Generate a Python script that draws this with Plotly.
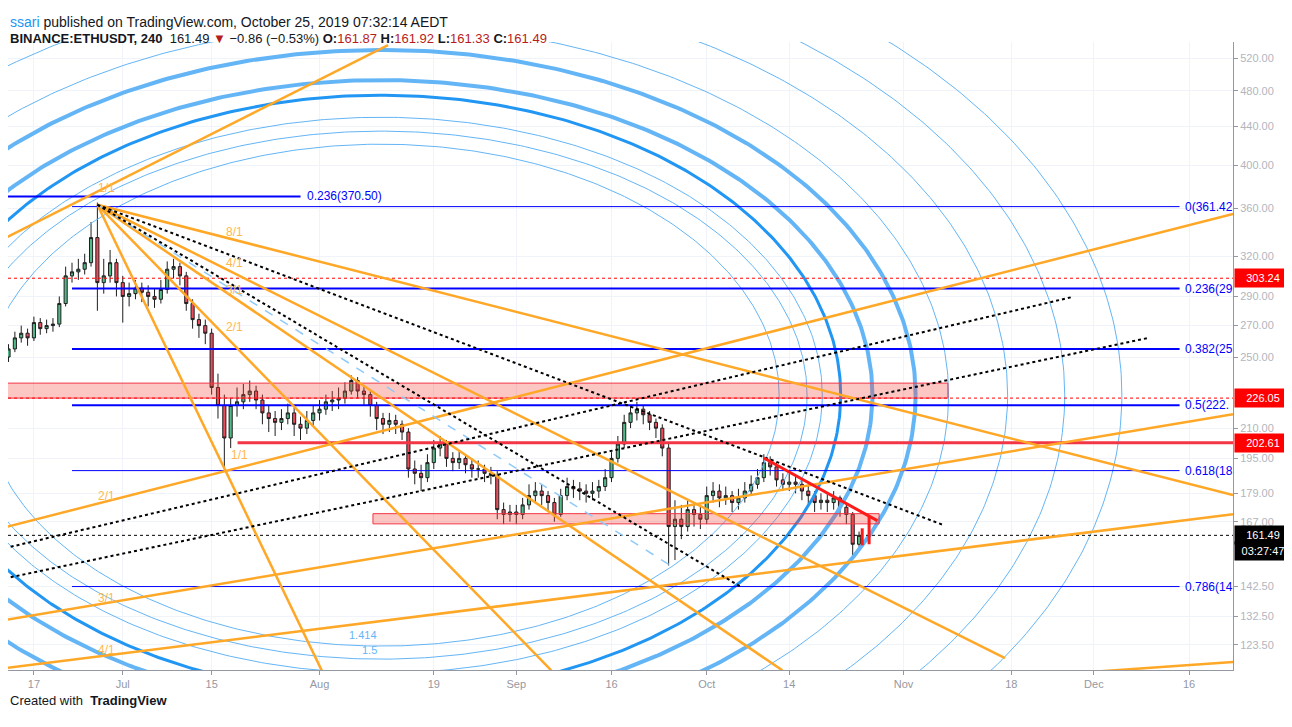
import numpy as np
import pandas as pd
from plotly import graph_objects as go

# daily ETHUSDT candles
start_date = "2019-06-12"
closes = [250, 255, 262, 265, 262, 272, 268, 270, 271, 285,
          305, 308, 310, 315, 335, 300, 305, 315, 300, 290,
          292, 296, 293, 290, 288, 295, 310, 312, 305, 285,
          274, 270, 265, 232, 222, 205, 222, 224, 228, 230,
          225, 218, 215, 213, 215, 218, 212, 210, 214, 218,
          220, 224, 225, 226, 230, 236, 230, 228, 222, 215,
          212, 214, 212, 208, 190, 188, 186, 193, 200, 202,
          195, 193, 195, 192, 190, 190, 188, 187, 172, 170,
          171, 170, 174, 178, 180, 178, 175, 170, 178, 182,
          181, 180, 179, 180, 182, 186, 195, 202, 213, 218,
          220, 217, 213, 210, 200, 165, 168, 165, 172, 170,
          168, 178, 180, 177, 178, 175, 177, 180, 183, 186,
          193, 191, 185, 183, 184, 183, 180, 178, 175, 176,
          175, 177, 173, 170, 158, 161.49]
highs = [254, 258, 266, 270, 268, 276, 275, 274, 275, 290,
         312, 315, 318, 322, 348, 365, 318, 325, 318, 305,
         300, 302, 300, 298, 296, 302, 316, 318, 315, 308,
         288, 278, 274, 268, 240, 228, 226, 232, 234, 236,
         233, 228, 222, 219, 220, 223, 221, 216, 219, 222,
         225, 228, 230, 232, 235, 239, 238, 233, 230, 224,
         218, 218, 217, 214, 210, 194, 192, 197, 204, 206,
         204, 198, 199, 197, 195, 194, 192, 191, 189, 175,
         174, 174, 177, 183, 184, 183, 180, 177, 181, 186,
         185, 184, 183, 184, 185, 190, 198, 206, 217, 222,
         224, 222, 219, 215, 212, 202, 176, 174, 176, 175,
         174, 182, 184, 183, 182, 180, 181, 184, 187, 190,
         197, 196, 193, 188, 188, 187, 185, 183, 180, 179,
         179, 180, 178, 175, 171, 163]
lows = [243, 247, 253, 259, 257, 260, 264, 265, 266, 269,
        283, 300, 302, 306, 312, 280, 292, 300, 290, 272,
        283, 288, 286, 283, 282, 285, 292, 303, 298, 280,
        268, 262, 258, 228, 215, 190, 200, 216, 220, 224,
        220, 212, 208, 206, 209, 212, 206, 204, 207, 211,
        214, 217, 219, 220, 223, 228, 226, 222, 216, 209,
        207, 208, 207, 204, 186, 183, 180, 184, 190, 196,
        191, 189, 190, 188, 186, 186, 184, 183, 168, 166,
        167, 166, 168, 172, 175, 174, 171, 167, 169, 176,
        177, 176, 175, 176, 177, 180, 184, 193, 200, 210,
        214, 212, 209, 205, 196, 150, 152, 160, 163, 165,
        164, 166, 175, 173, 174, 171, 172, 175, 178, 181,
        184, 187, 182, 180, 180, 179, 176, 174, 171, 172,
        171, 172, 169, 166, 153, 157]
opens = [245] + closes[:-1]
dates = pd.date_range(start_date, periods=len(closes), freq="D")

# fibonacci retracement levels
fib_names = ["0(361.42", "0.236(29", "0.382(25", "0.5(222.", "0.618(18", "0.786(14"]
fib_prices = [361.42, 295.67, 255.0, 222.12, 189.25, 142.44]
fib_widths = [1, 2, 2, 2, 1, 1]
fib_start = "2019-06-23"
fib_end = "2019-12-14 12:00"
fib_label_x = "2019-12-15"

# gann fan / trend lines (start date, start price, end date, end price)
orange_x0 = ["2019-06-12 10:00", "2019-06-27", "2019-06-27", "2019-06-27", "2019-06-27", "2019-06-27",
             "2019-06-12 10:00", "2019-06-12 10:00", "2019-06-12 10:00", "2019-11-10"]
orange_y0 = [334.5, 363, 363, 363, 363, 363, 164.7, 131.2, 116.6, 113.0]
orange_x1 = ["2019-08-11 19:00", "2019-12-22 22:00", "2019-11-17", "2019-10-12 22:00", "2019-09-06 12:00",
             "2019-08-01 08:00", "2019-12-22 22:00", "2019-12-22 22:00", "2019-12-22 22:00", "2019-12-22 22:00"]
orange_y1 = [537, 178.2, 119.5, 116, 116, 116, 355, 217.3, 170.1, 118.4]

dotted_x0 = ["2019-06-27", "2019-06-27", "2019-06-12 10:00", "2019-06-12 10:00"]
dotted_y0 = [363, 363, 145.3, 156.5]
dotted_x1 = ["2019-11-07 10:00", "2019-10-06 12:00", "2019-12-09 12:00", "2019-11-27 14:00"]
dotted_y1 = [165.5, 142.2, 261.9, 289.6]

fan_labels = ["1/1", "8/1", "4/1", "3/1", "2/1", "1/1", "2/1", "3/1", "4/1"]
fan_label_x = ["2019-06-28 12:00", "2019-07-18 14:00", "2019-07-18 14:00", "2019-07-18 14:00", "2019-07-18 14:00",
               "2019-07-19 08:00", "2019-06-28 12:00", "2019-06-28 12:00", "2019-06-28 12:00"]
fan_label_y = [378, 339.6, 315, 294.5, 269, 196.6, 178, 138.4, 121.9]

# fibonacci ellipses around one centre
circle_center_x = "2019-08-10 17:00"
circle_center_y = 227.7
circle_hr_days = [62.7, 67.1, 69.5, 72.4, 77.4, 84.2, 89.4, 98.7, 107.7, 116.7]
circle_vr_ln = [0.615, 0.647, 0.681, 0.735, 0.772, 0.846, 0.907, 1.005, 1.096, 1.189]
circle_widths = [1, 1, 1, 3, 4, 4, 1, 1, 1, 1]
circle_colors = ["#64b5f6", "#64b5f6", "#64b5f6", "#2196f3", "#64b5f6", "#64b5f6",
                 "#64b5f6", "#64b5f6", "#64b5f6", "#64b5f6"]

# zones and levels
zone1 = ["2019-06-12 10:00", "2019-11-08", 226.05, 234.5]
zone2 = ["2019-08-09 10:00", "2019-10-28 04:00", 166.1, 170.3]
axis_end = "2019-12-22 22:00"
axis_start = "2019-06-12 22:00"
red_line = ["2019-10-10", 195.2, "2019-10-27 21:00", 167.4]
red_ticks_x = ["2019-10-25 12:00", "2019-10-26 14:00"]
red_ticks_y0 = [164.3, 169.0]
red_ticks_y1 = [157.6, 158.0]

y_ticks = [520, 480, 440, 400, 360, 320, 290, 270, 250, 210, 195, 179, 167, 142.5, 132.5, 123.5]
x_tick_vals = ["2019-06-17", "2019-07-01", "2019-07-15", "2019-08-01", "2019-08-19", "2019-09-01", "2019-09-16",
               "2019-10-01", "2019-10-14", "2019-11-01", "2019-11-18", "2019-12-01", "2019-12-16"]
x_tick_text = ["17", "Jul", "15", "Aug", "19", "Sep", "16", "Oct", "14", "Nov", "18", "Dec", "16"]

fig = go.Figure()

# ellipses
t = np.linspace(0, 2 * np.pi, 600)
center = pd.Timestamp(circle_center_x)
for hr, vr, w, c in zip(circle_hr_days, circle_vr_ln, circle_widths, circle_colors):
    xs = center + pd.to_timedelta(hr * np.cos(t), unit="D")
    ys = np.exp(np.log(circle_center_y) + vr * np.sin(t))
    fig.add_trace(go.Scatter(x=xs, y=ys, mode="lines", line=dict(color=c, width=w), hoverinfo="skip"))

# zones
for z in [zone1, zone2]:
    fig.add_trace(go.Scatter(x=[z[0], z[1], z[1], z[0], z[0]], y=[z[2], z[2], z[3], z[3], z[2]],
                             mode="lines", fill="toself", fillcolor="rgba(244,67,54,0.3)",
                             line=dict(color="#f23645", width=1), hoverinfo="skip"))

# red / black horizontal levels
fig.add_trace(go.Scatter(x=[axis_start, axis_end], y=[303.24, 303.24], mode="lines", line=dict(color="#ff0000", width=1, dash="dot")))
fig.add_trace(go.Scatter(x=[axis_start, axis_end], y=[226.05, 226.05], mode="lines", line=dict(color="#ff0000", width=1, dash="dot")))
fig.add_trace(go.Scatter(x=["2019-07-19 02:00", axis_end], y=[202.61, 202.61], mode="lines", line=dict(color="#f23645", width=3)))
fig.add_trace(go.Scatter(x=[axis_start, axis_end], y=[161.49, 161.49], mode="lines", line=dict(color="#000000", width=1, dash="dot")))

# fib levels
fig.add_trace(go.Scatter(x=[axis_start, "2019-07-29"], y=[370.5, 370.5], mode="lines", line=dict(color="#0000ff", width=2)))
for price, w in zip(fib_prices, fib_widths):
    fig.add_trace(go.Scatter(x=[fib_start, fib_end], y=[price, price], mode="lines", line=dict(color="#0000ff", width=w)))

# orange fan lines
for x0, y0, x1, y1 in zip(orange_x0, orange_y0, orange_x1, orange_y1):
    fig.add_trace(go.Scatter(x=[x0, x1], y=[y0, y1], mode="lines", line=dict(color="#ffa726", width=2.5)))

# light blue dashed line
fig.add_trace(go.Scatter(x=["2019-06-27", "2019-09-25 07:00"], y=[363, 150], mode="lines",
                         line=dict(color="#90caf9", width=1.5, dash="dash")))

# dotted trend lines
for x0, y0, x1, y1 in zip(dotted_x0, dotted_y0, dotted_x1, dotted_y1):
    fig.add_trace(go.Scatter(x=[x0, x1], y=[y0, y1], mode="lines", line=dict(color="#000000", width=2, dash="dot")))

# candles
fig.add_trace(go.Candlestick(
    x=dates, open=opens, high=highs, low=lows, close=closes,
    increasing=dict(line=dict(color="#1e1e1e", width=1), fillcolor="#53b987"),
    decreasing=dict(line=dict(color="#1e1e1e", width=1), fillcolor="#eb4d5c"),
    whiskerwidth=0,
))

# red downtrend line and markers
fig.add_trace(go.Scatter(x=[red_line[0], red_line[2]], y=[red_line[1], red_line[3]], mode="lines", line=dict(color="#ff1a1a", width=3)))
for x, y0, y1 in zip(red_ticks_x, red_ticks_y0, red_ticks_y1):
    fig.add_trace(go.Scatter(x=[x, x], y=[y0, y1], mode="lines", line=dict(color="#ff1a1a", width=3)))

annotations = []
for name, price in zip(fib_names, fib_prices):
    annotations.append(dict(x=fib_label_x, y=np.log10(price), text=name, showarrow=False, xanchor="left",
                            font=dict(color="#0000ff", size=12)))
annotations.append(dict(x="2019-07-29 18:00", y=np.log10(370.5), text="0.236(370.50)", showarrow=False, xanchor="left",
                        font=dict(color="#0000ff", size=12)))
for label, lx, ly in zip(fan_labels, fan_label_x, fan_label_y):
    annotations.append(dict(x=lx, y=np.log10(ly), text=label, showarrow=False, font=dict(color="#ffb74d", size=12)))
annotations.append(dict(x="2019-08-07 19:00", y=np.log10(126.5), text="1.414", showarrow=False, font=dict(color="#64b5f6", size=11)))
annotations.append(dict(x="2019-08-08 22:00", y=np.log10(121.9), text="1.5", showarrow=False, font=dict(color="#64b5f6", size=11)))

# price tags on the right axis
for price, bg in [(303.24, "#ff0000"), (226.05, "#ff0000"), (202.61, "#ff0000"), (161.49, "#000000")]:
    annotations.append(dict(x=1.0, xref="paper", y=np.log10(price), text=f"{price:.2f}", showarrow=False,
                            xanchor="left", bgcolor=bg, font=dict(color="white", size=11), borderpad=3, width=50,
                            xshift=1))
annotations.append(dict(x=1.0, xref="paper", y=np.log10(155.6), text="03:27:47", showarrow=False,
                        xanchor="left", bgcolor="#000000", font=dict(color="white", size=11), borderpad=3, width=50,
                        xshift=1))

red = "#b71c1c"
annotations.append(dict(x=0, xref="paper", y=1.048, yref="paper", xanchor="left", showarrow=False,
                        text="<span style='color:#2196f3'>ssari</span> published on TradingView.com, October 25, 2019 07:32:14 AEDT",
                        font=dict(size=14, color="#131722")))
annotations.append(dict(x=0, xref="paper", y=1.02, yref="paper", xanchor="left", showarrow=False,
                        text=f"<b>BINANCE:ETHUSDT, 240</b>  161.49 <span style='color:{red}'>▼</span> −0.86 (−0.53%) "
                             f"<b>O:</b><span style='color:{red}'>161.87</span> <b>H:</b><span style='color:{red}'>161.92</span> "
                             f"<b>L:</b><span style='color:{red}'>161.33</span> <b>C:</b><span style='color:{red}'>161.49</span>",
                        font=dict(size=13, color="#131722")))
annotations.append(dict(x=0, xref="paper", y=-0.064, yref="paper", xanchor="left", showarrow=False,
                        text="Created with  <b>TradingView</b>", font=dict(size=13, color="#131722")))

# the page body adds an 8px margin, so the figure is sized to fit the 1292x727 window
fig.update_layout(
    width=1284, height=719,
    margin=dict(l=0, r=59, t=34, b=57, autoexpand=False),
    paper_bgcolor="white", plot_bgcolor="white",
    showlegend=False,
    font=dict(family="Liberation Sans, DejaVu Sans, sans-serif"),
    annotations=annotations,
    xaxis=dict(range=[axis_start, axis_end], rangeslider=dict(visible=False), tickvals=x_tick_vals,
               ticktext=x_tick_text, showgrid=True, gridcolor="#f0f3fa", showline=True, linecolor="#9598a1",
               ticks="outside", ticklen=4, tickcolor="#9598a1", tickfont=dict(size=11, color="#9598a1"), zeroline=False),
    yaxis=dict(type="log", range=[np.log10(116.1), np.log10(541)], side="right", tickvals=y_ticks,
               ticktext=[f"{v:.2f}" for v in y_ticks], showgrid=True, gridcolor="#f0f3fa", showline=True,
               linecolor="#9598a1", ticks="outside", ticklen=4, tickcolor="#9598a1",
               tickfont=dict(size=11, color="#b2b5be"), zeroline=False),
)

fig.write_html("out.html")
